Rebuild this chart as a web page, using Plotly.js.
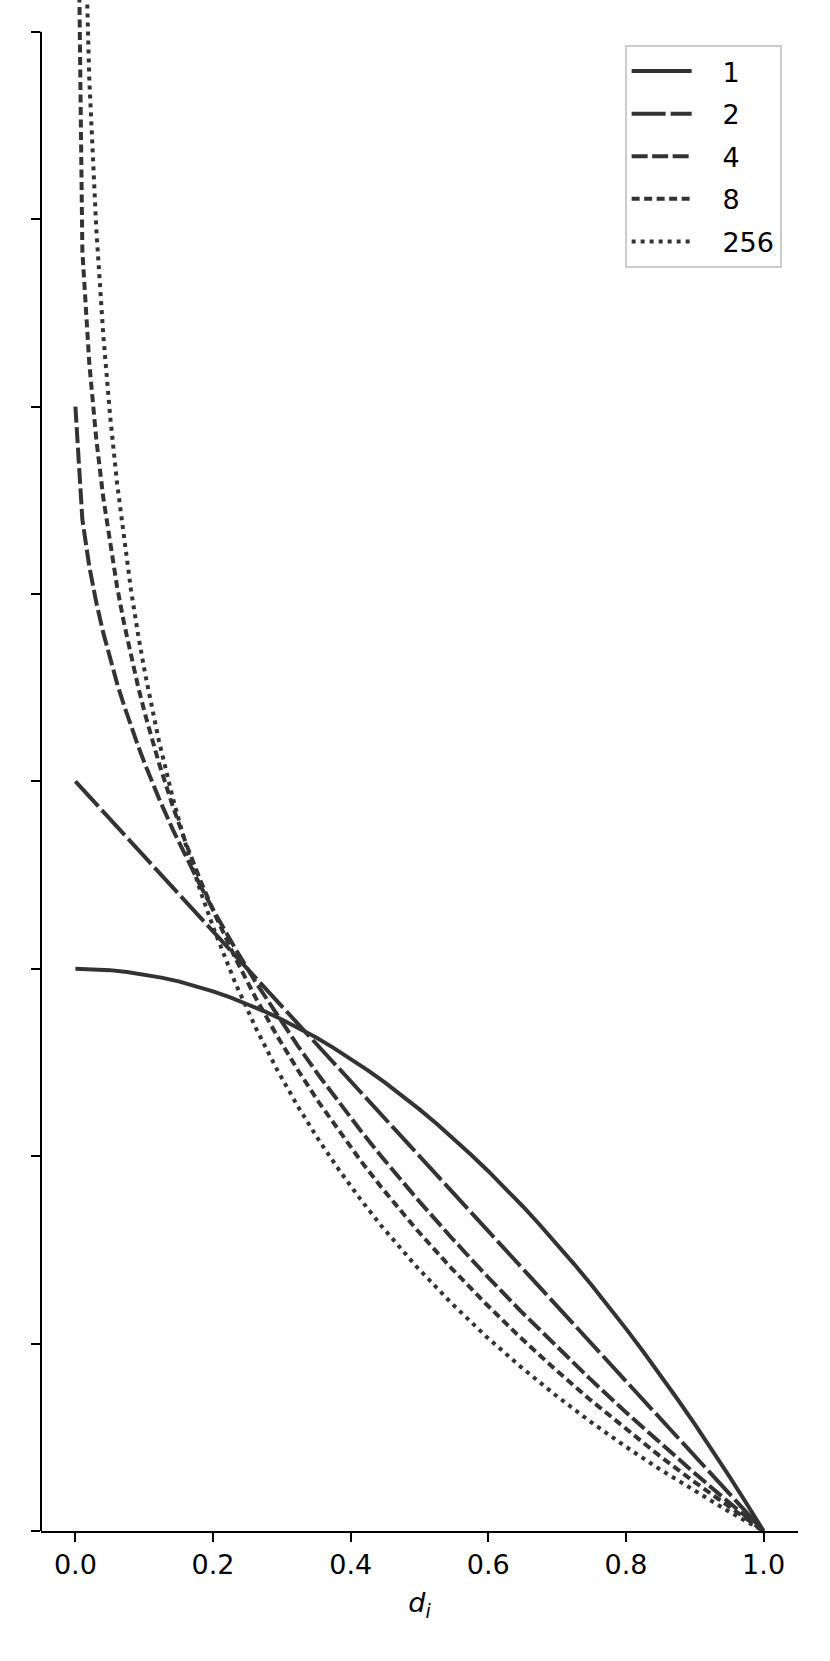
<!DOCTYPE html>
<html>
<head>
<meta charset="utf-8">
<script src="https://cdn.plot.ly/plotly-3.0.1.min.js"></script>
<style>
  html, body { margin: 0; padding: 0; background: #fff; }
  #chart { width: 830px; height: 1661px; }
</style>
</head>
<body>
<div id="chart"></div>
<script>
// values, y in tick units (ticks unlabeled)
const names = ["1", "2", "4", "8", "256"];

const d1 = [0, 0.025, 0.05, 0.075, 0.1, 0.125, 0.15, 0.175, 0.2, 0.225, 0.25, 0.275, 0.3, 0.325, 0.35, 0.375, 0.4,
  0.425, 0.45, 0.475, 0.5, 0.525, 0.55, 0.575, 0.6, 0.625, 0.65, 0.675, 0.7, 0.725, 0.75, 0.775, 0.8,
  0.825, 0.85, 0.875, 0.9, 0.925, 0.95, 0.975, 1];
const y1 = [3, 2.998, 2.993, 2.983, 2.970, 2.953, 2.933, 2.908, 2.880, 2.848, 2.813, 2.773, 2.730, 2.683, 2.633, 2.578, 2.520,
  2.458, 2.393, 2.323, 2.250, 2.173, 2.093, 2.008, 1.920, 1.828, 1.733, 1.633, 1.530, 1.423, 1.313, 1.198, 1.080,
  0.958, 0.833, 0.703, 0.570, 0.433, 0.293, 0.148, 0];

const d2 = [0, 0.1, 0.2, 0.3, 0.4, 0.5, 0.6, 0.7, 0.8, 0.9, 1];
const y2 = [4, 3.6, 3.2, 2.8, 2.4, 2.0, 1.6, 1.2, 0.8, 0.4, 0];

// the steep curves are sampled finer near d = 0
const dSteep = [0, 0.0101, 0.0202, 0.0303, 0.0404, 0.0505, 0.0606, 0.0707, 0.0808, 0.0909, 0.1010,
  0.1212, 0.1414, 0.1616, 0.1818, 0.2020, 0.2323, 0.2626, 0.2929, 0.3232, 0.3535, 0.3838, 0.4141, 0.4444,
  0.4949, 0.5455, 0.5960, 0.6465, 0.6970, 0.7475, 0.7980, 0.8485, 0.8990, 0.9495, 1];
const y4 = [6, 5.397, 5.147, 4.956, 4.794, 4.652, 4.523, 4.405, 4.294, 4.191, 4.093,
  3.911, 3.744, 3.588, 3.442, 3.303, 3.108, 2.925, 2.753, 2.589, 2.432, 2.283, 2.139, 2.000,
  1.779, 1.569, 1.368, 1.176, 0.991, 0.813, 0.640, 0.473, 0.311, 0.153, 0];
const y8 = [10, 6.830, 6.230, 5.828, 5.517, 5.259, 5.038, 4.843, 4.668, 4.509, 4.362,
  4.100, 3.868, 3.660, 3.470, 3.296, 3.057, 2.841, 2.643, 2.460, 2.289, 2.129, 1.978, 1.835,
  1.612, 1.406, 1.214, 1.033, 0.863, 0.702, 0.549, 0.402, 0.263, 0.129, 0];
const y256 = [258, 9.098, 7.746, 6.952, 6.387, 5.948, 5.589, 5.285, 5.021, 4.788, 4.580,
  4.219, 3.913, 3.647, 3.413, 3.204, 2.925, 2.681, 2.463, 2.266, 2.087, 1.923, 1.771, 1.629,
  1.414, 1.219, 1.041, 0.878, 0.727, 0.586, 0.454, 0.331, 0.215, 0.104, 0];

const xs = [d1, d2, dSteep, dSteep, dSteep];
const ys = [y1, y2, y4, y8, y256];
const dashes = ["solid", "34px,5px", "16px,4.5px", "8px,4.5px", "4px,5px"];

const xTicks = [0, 0.2, 0.4, 0.6, 0.8, 1.0];
const yTicks = [0, 1, 2, 3, 4, 5, 6, 7, 8];

const lineColor = "#333333";
const font = "DejaVu Sans, sans-serif";
const pad = "\u00a0\u00a0\u00a0";

let traces = names.map((n, i) => ({
  x: xs[i], y: ys[i], name: pad + n, legendgroup: "g" + i,
  mode: "lines", type: "scatter",
  line: {color: lineColor, width: 4, dash: dashes[i]}
}));

let layout = {
  width: 830, height: 1661,
  margin: {l: 41, r: 32, t: 0, b: 130},
  paper_bgcolor: "#fff", plot_bgcolor: "#fff",
  font: {family: font, size: 27, color: "#000"},
  showlegend: true,
  legend: {
    x: 0.771, y: 0.9706, xanchor: "left", yanchor: "top",
    bgcolor: "rgba(255,255,255,0.8)", bordercolor: "#cccccc", borderwidth: 2,
    font: {family: font, size: 27, color: "#000"},
    itemwidth: 60, tracegroupgap: 4.5
  },
  xaxis: {
    range: [-0.05, 1.05], tickvals: xTicks, tickformat: ".1f",
    showgrid: false, zeroline: false,
    showline: true, linecolor: "#000", linewidth: 2,
    ticks: "outside", ticklen: 9, tickwidth: 2, tickcolor: "#000",
    tickfont: {family: font, size: 27, color: "#000"},
    title: {text: "<i>d</i><sub><i>i</i></sub>", font: {family: font, size: 27, color: "#000"}, standoff: 14}
  },
  yaxis: {
    range: [0, 8.17], tickvals: yTicks, showticklabels: false,
    showgrid: false, zeroline: false, showline: false,
    ticks: "outside", ticklen: 9, tickwidth: 2, tickcolor: "#000"
  },
  shapes: [
    // left spine stops at the top tick
    {type: "line", xref: "paper", yref: "y", x0: 0, x1: 0, y0: 0, y1: yTicks[yTicks.length - 1],
     line: {color: "#000", width: 2}}
  ]
};

Plotly.newPlot("chart", traces, layout, {displayModeBar: false, staticPlot: true});
</script>
</body>
</html>
